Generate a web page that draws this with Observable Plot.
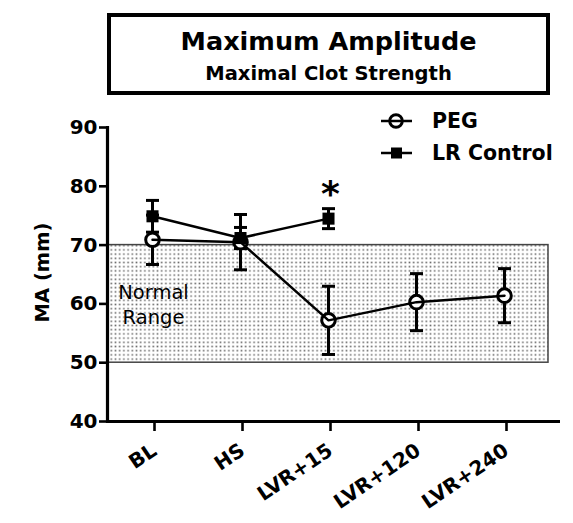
<!DOCTYPE html>
<html>
<head>
<meta charset="utf-8">
<script src="https://cdn.jsdelivr.net/npm/d3@7"></script>
<script src="https://cdn.jsdelivr.net/npm/@observablehq/plot@0.6"></script>
<style>
  html, body { margin: 0; padding: 0; background: #fff; }
  #wrap { position: relative; width: 573px; height: 523px; overflow: hidden; font-family: "DejaVu Sans", sans-serif; }
  #title { position: absolute; left: 107px; top: 13px; width: 435px; height: 74px; border: 4px solid #000; text-align: center; font-weight: bold; color: #000; }
  #title .t1 { position: absolute; left: 0; right: 0; top: 9px; font-size: 25.5px; line-height: 30px; }
  #title .t2 { position: absolute; left: 0; right: 0; top: 45px; font-size: 19.5px; line-height: 24px; }
  #legend { position: absolute; left: 375px; top: 105px; }
  #chart { position: absolute; left: 0; top: 0; }
</style>
</head>
<body>
<svg width="0" height="0" style="position:absolute">
  <defs>
    <pattern id="dots" width="4.2" height="4.2" patternUnits="userSpaceOnUse">
      <rect width="4.2" height="4.2" fill="#fff"/>
      <rect x="1.3" y="1.3" width="1.6" height="1.6" fill="#6e6e6e"/>
    </pattern>
  </defs>
</svg>
<div id="wrap">
  <div id="chart"></div>
  <div id="title"><div class="t1">Maximum Amplitude</div><div class="t2">Maximal Clot Strength</div></div>
  <div id="legend"></div>
</div>
<script>
// ---- data ----
const categories = ["BL", "HS", "LVR+15", "LVR+120", "LVR+240"];
const pegMean = [70.9, 70.5, 57.2, 60.3, 61.4];
const pegErr  = [4.2, 4.7, 5.8, 4.85, 4.6];
const lrCategories = ["BL", "HS", "LVR+15"];
const lrMean = [74.9, 71.2, 74.5];
const lrErr  = [2.7, 1.8, 1.7];
const yTicks = [40, 50, 60, 70, 80, 90];
const normalRange = [50, 70];
const seriesNames = ["PEG", "LR Control"];
const annotation = {category: "LVR+15", text: "*"};

const peg = categories.map((c, i) => ({series: seriesNames[0], cat: c, mean: pegMean[i], lo: pegMean[i] - pegErr[i], hi: pegMean[i] + pegErr[i]}));
const lr = lrCategories.map((c, i) => ({series: seriesNames[1], cat: c, mean: lrMean[i], lo: lrMean[i] - lrErr[i], hi: lrMean[i] + lrErr[i]}));
const all = peg.concat(lr);
const star = lr.filter(d => d.cat === annotation.category).map(d => ({...d, text: annotation.text}));

const capSymbol = {
  draw(ctx, size) {
    const w = Math.sqrt(size / Math.PI);
    ctx.moveTo(-w, 0);
    ctx.lineTo(w, 0);
  }
};

const chart = Plot.plot({
  width: 573,
  height: 523,
  marginTop: 127,
  marginBottom: 102,
  marginLeft: 107,
  marginRight: 13,
  style: {fontFamily: "DejaVu Sans", fontWeight: "bold", color: "#000", background: "transparent", overflow: "visible"},
  x: {type: "point", domain: categories, padding: 0, insetLeft: 45, insetRight: 56},
  y: {domain: [40, 90]},
  marks: [
    Plot.rect({length: 1}, {y1: normalRange[0], y2: normalRange[1], fill: "url(#dots)", stroke: "#444", strokeWidth: 1.5, insetRight: 12}),
    Plot.text({length: 1}, {x: () => categories[0], y: () => (normalRange[0] + normalRange[1]) / 2, text: () => "Normal\nRange", fontSize: 19.5, fontWeight: "normal", lineHeight: 1.28, textAnchor: "middle", dx: 1}),
    Plot.ruleY([yTicks[0]], {strokeWidth: 3.2}),
    Plot.frame({anchor: "left", strokeWidth: 3.2}),
    Plot.axisY({ticks: yTicks, tickSize: 8, tickPadding: 2, strokeWidth: 2.6, fontSize: 20, label: null}),
    Plot.axisX({tickSize: 10, tickPadding: 17, tickRotate: -34, strokeWidth: 2.6, fontSize: 20, dx: 2, label: null}),
    Plot.text({length: 1}, {text: () => "MA (mm)", frameAnchor: "left", textAnchor: "middle", rotate: -90, dx: -65, dy: -2, fontSize: 19.5, fontWeight: "bold"}),
    Plot.ruleX(all, {x: "cat", y1: "lo", y2: "hi", strokeWidth: 3}),
    Plot.dot(all, {x: "cat", y: "hi", symbol: capSymbol, r: 6.5, stroke: "#000", strokeWidth: 3, fill: "none"}),
    Plot.dot(all, {x: "cat", y: "lo", symbol: capSymbol, r: 6.5, stroke: "#000", strokeWidth: 3, fill: "none"}),
    Plot.dot(peg, {x: "cat", y: "mean", r: 6.8, stroke: "#000", strokeWidth: 3, fill: "#fff"}),
    Plot.line(all, {x: "cat", y: "mean", z: "series", stroke: "#000", strokeWidth: 2.5}),
    Plot.dot(lr, {x: "cat", y: "mean", symbol: "square", r: 6.8, fill: "#000", stroke: "none"}),
    Plot.text(star, {x: "cat", y: "hi", text: "text", fontSize: 36, fontWeight: "bold", dy: -14, dx: 2})
  ]
});
document.getElementById("chart").appendChild(chart);

// legend
const lg = d3.create("svg").attr("width", 195).attr("height", 65)
  .style("font-family", "DejaVu Sans").style("font-weight", "bold");
const rows = [{name: seriesNames[0], y: 16}, {name: seriesNames[1], y: 48}];
rows.forEach((r, i) => {
  lg.append("line").attr("x1", 6).attr("x2", 37).attr("y1", r.y).attr("y2", r.y).attr("stroke", "#000").attr("stroke-width", 2.5);
  if (i === 0) {
    lg.append("circle").attr("cx", 21).attr("cy", r.y).attr("r", 6.3).attr("fill", "none").attr("stroke", "#000").attr("stroke-width", 3);
  } else {
    lg.append("rect").attr("x", 16).attr("y", r.y - 5.5).attr("width", 11).attr("height", 11).attr("fill", "#000");
  }
  lg.append("text").attr("x", 57).attr("y", r.y + 7).attr("font-size", 20.5).text(r.name);
});
document.getElementById("legend").appendChild(lg.node());
</script>
</body>
</html>
